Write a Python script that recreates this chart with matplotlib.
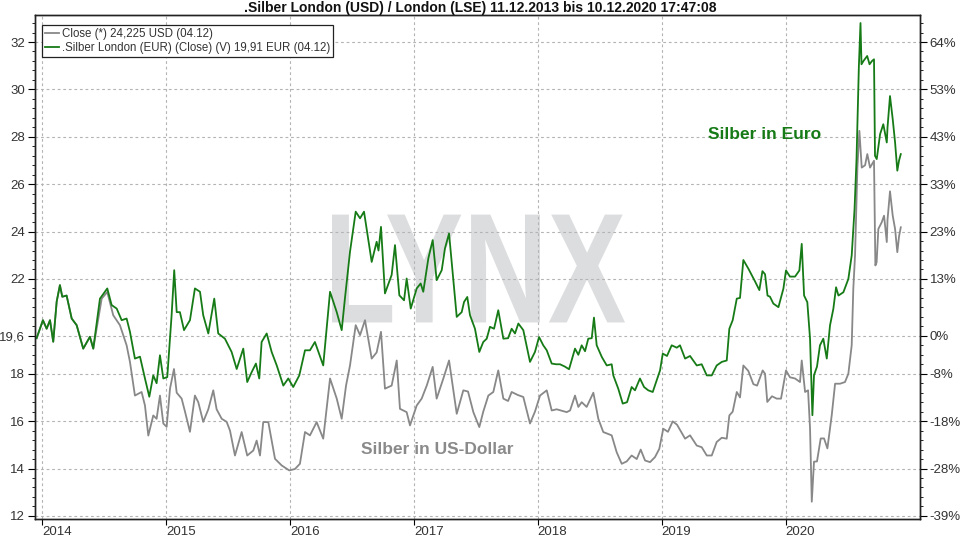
import numpy as np
import matplotlib
matplotlib.use('Agg')
import matplotlib.pyplot as plt
from matplotlib.textpath import TextPath
from matplotlib.patches import PathPatch
from matplotlib.font_manager import FontProperties
from matplotlib.transforms import Affine2D

plt.rcParams['font.family'] = ['Liberation Sans', 'DejaVu Sans']

# Silber in USD (grau), Zeit als Dezimaljahr
usd_t = [2013.957, 2014.008, 2014.038, 2014.065, 2014.091, 2014.119, 2014.145, 2014.164, 2014.199, 2014.240,
         2014.280, 2014.333, 2014.387, 2014.414, 2014.482, 2014.527, 2014.575, 2014.629, 2014.683, 2014.710,
         2014.750, 2014.804, 2014.831, 2014.858, 2014.898, 2014.925, 2014.952, 2014.979, 2015.006, 2015.033,
         2015.065, 2015.087, 2015.127, 2015.154, 2015.194, 2015.234, 2015.261, 2015.301, 2015.342, 2015.382,
         2015.409, 2015.450, 2015.490, 2015.517, 2015.557, 2015.611, 2015.656, 2015.705, 2015.732, 2015.759,
         2015.785, 2015.826, 2015.880, 2015.934, 2015.995, 2016.041, 2016.081, 2016.122, 2016.162, 2016.216,
         2016.269, 2016.324, 2016.378, 2016.418, 2016.453, 2016.485, 2016.531, 2016.566, 2016.606, 2016.660,
         2016.700, 2016.735, 2016.767, 2016.821, 2016.862, 2016.888, 2016.942, 2016.969, 2017.023, 2017.063,
         2017.104, 2017.152, 2017.184, 2017.238, 2017.284, 2017.346, 2017.399, 2017.437, 2017.480, 2017.528,
         2017.560, 2017.601, 2017.641, 2017.681, 2017.722, 2017.760, 2017.789, 2017.840, 2017.883, 2017.937,
         2017.977, 2018.018, 2018.072, 2018.112, 2018.152, 2018.233, 2018.260, 2018.300, 2018.327, 2018.354,
         2018.394, 2018.448, 2018.488, 2018.528, 2018.596, 2018.636, 2018.677, 2018.717, 2018.757, 2018.798,
         2018.830, 2018.865, 2018.905, 2018.945, 2018.980, 2019.012, 2019.050, 2019.088, 2019.123, 2019.188,
         2019.228, 2019.282, 2019.322, 2019.363, 2019.403, 2019.443, 2019.484, 2019.524, 2019.545, 2019.572,
         2019.605, 2019.631, 2019.658, 2019.698, 2019.739, 2019.769, 2019.814, 2019.833, 2019.851, 2019.889,
         2019.927, 2019.962, 2020.002, 2020.034, 2020.075, 2020.115, 2020.129, 2020.156, 2020.180, 2020.196,
         2020.210, 2020.228, 2020.252, 2020.282, 2020.309, 2020.336, 2020.371, 2020.398, 2020.438, 2020.478,
         2020.505, 2020.532, 2020.545, 2020.559, 2020.578, 2020.594, 2020.613, 2020.640, 2020.658, 2020.680,
         2020.712, 2020.723, 2020.733, 2020.747, 2020.774, 2020.793, 2020.815, 2020.821, 2020.841, 2020.863,
         2020.882, 2020.900, 2020.914, 2020.928]
usd_v = [19.5, 20.26, 19.9, 20.26, 19.35, 21.05, 21.74, 21.25, 21.3, 20.33,
         20.05, 19.06, 19.56, 19.06, 21.17, 21.45, 20.47, 20.05, 19.2, 18.5,
         17.08, 17.23, 16.66, 15.39, 16.24, 16.1, 17.08, 15.9, 15.76, 17.37,
         18.2, 17.2, 16.95, 16.4, 15.55, 17.08, 16.8, 15.97, 16.5, 17.3,
         16.5, 16.1, 15.97, 15.6, 14.55, 15.54, 14.55, 14.76, 15.18, 14.55,
         15.96, 15.96, 14.41, 14.13, 13.92, 13.98, 14.2, 15.54, 15.4, 15.96,
         15.26, 17.8, 16.95, 16.1, 17.5, 18.35, 20.05, 19.63, 20.26, 18.64,
         18.9, 19.77, 17.37, 17.5, 18.56, 16.52, 16.38, 15.82, 16.66, 16.95,
         17.5, 18.29, 16.95, 17.8, 18.56, 16.31, 17.3, 17.25, 16.38, 15.75,
         16.4, 17.08, 17.23, 18.14, 16.95, 16.85, 17.23, 17.1, 17.02, 15.9,
         16.4, 17.08, 17.3, 16.45, 16.5, 16.38, 16.45, 17.08, 16.6, 16.8,
         16.6, 17.2, 16.1, 15.54, 15.4, 14.69, 14.2, 14.3, 14.55, 14.4,
         14.8, 14.34, 14.27, 14.48, 14.83, 15.68, 15.55, 15.99, 15.85, 15.26,
         15.4, 14.97, 14.9, 14.55, 14.55, 15.12, 15.3, 15.26, 16.24, 16.4,
         17.23, 17.0, 18.35, 18.12, 17.56, 17.5, 18.14, 18.0, 16.81, 17.05,
         16.95, 16.95, 18.14, 17.85, 17.8, 17.65, 18.56, 17.23, 17.3, 15.69,
         12.6, 14.29, 14.3, 15.27, 15.27, 14.85, 16.25, 17.58, 17.58, 17.65,
         18.0, 19.2, 21.59, 22.99, 26.7, 28.25, 26.7, 26.8, 27.27, 26.7,
         26.99, 22.57, 22.7, 24.11, 24.39, 24.67, 23.56, 24.5, 25.7, 24.67,
         24.11, 23.13, 23.8, 24.18]

# Silber in EUR (gruen), auf den USD-Startwert skaliert
eur_t = [2013.957, 2014.008, 2014.038, 2014.065, 2014.091, 2014.119, 2014.145, 2014.164, 2014.199, 2014.240,
         2014.280, 2014.333, 2014.387, 2014.414, 2014.468, 2014.527, 2014.562, 2014.603, 2014.643, 2014.683,
         2014.710, 2014.750, 2014.791, 2014.831, 2014.866, 2014.898, 2014.925, 2014.952, 2014.979, 2015.011,
         2015.046, 2015.067, 2015.087, 2015.113, 2015.146, 2015.194, 2015.234, 2015.275, 2015.301, 2015.342,
         2015.390, 2015.422, 2015.476, 2015.530, 2015.571, 2015.624, 2015.656, 2015.692, 2015.726, 2015.753,
         2015.772, 2015.813, 2015.853, 2015.894, 2015.947, 2015.987, 2016.027, 2016.076, 2016.122, 2016.162,
         2016.202, 2016.269, 2016.324, 2016.378, 2016.418, 2016.444, 2016.485, 2016.531, 2016.566, 2016.598,
         2016.660, 2016.700, 2016.715, 2016.735, 2016.767, 2016.821, 2016.848, 2016.883, 2016.921, 2016.942,
         2016.975, 2017.023, 2017.055, 2017.076, 2017.117, 2017.152, 2017.184, 2017.225, 2017.251, 2017.284,
         2017.346, 2017.386, 2017.405, 2017.431, 2017.453, 2017.493, 2017.528, 2017.560, 2017.588, 2017.614,
         2017.647, 2017.681, 2017.722, 2017.760, 2017.789, 2017.816, 2017.843, 2017.883, 2017.937, 2017.977,
         2018.010, 2018.044, 2018.072, 2018.112, 2018.147, 2018.179, 2018.219, 2018.252, 2018.300, 2018.327,
         2018.354, 2018.381, 2018.407, 2018.435, 2018.453, 2018.475, 2018.516, 2018.556, 2018.596, 2018.609,
         2018.649, 2018.685, 2018.720, 2018.757, 2018.784, 2018.824, 2018.857, 2018.891, 2018.927, 2018.959,
         2018.986, 2019.008, 2019.042, 2019.080, 2019.121, 2019.147, 2019.188, 2019.228, 2019.282, 2019.322,
         2019.363, 2019.403, 2019.443, 2019.484, 2019.524, 2019.545, 2019.572, 2019.605, 2019.631, 2019.658,
         2019.698, 2019.752, 2019.787, 2019.812, 2019.833, 2019.853, 2019.873, 2019.900, 2019.941, 2019.981,
         2020.002, 2020.034, 2020.075, 2020.110, 2020.129, 2020.148, 2020.174, 2020.196, 2020.215, 2020.228,
         2020.252, 2020.276, 2020.303, 2020.331, 2020.357, 2020.384, 2020.406, 2020.425, 2020.465, 2020.505,
         2020.532, 2020.555, 2020.571, 2020.590, 2020.603, 2020.611, 2020.627, 2020.657, 2020.676, 2020.696,
         2020.712, 2020.720, 2020.734, 2020.761, 2020.787, 2020.815, 2020.821, 2020.841, 2020.863, 2020.882,
         2020.900, 2020.914, 2020.928]
eur_v = [19.5, 20.26, 19.9, 20.26, 19.35, 21.05, 21.74, 21.25, 21.3, 20.33,
         20.05, 19.06, 19.56, 19.06, 21.17, 21.6, 20.9, 20.75, 20.26, 20.33,
         19.77, 18.64, 18.72, 17.8, 17.03, 17.93, 17.6, 18.78, 17.8, 17.86,
         20.47, 22.37, 20.6, 20.6, 19.84, 20.26, 21.6, 21.46, 20.47, 19.7,
         21.17, 19.7, 19.48, 18.92, 18.2, 19.06, 17.65, 18.07, 18.43, 17.8,
         19.34, 19.7, 18.92, 18.35, 17.5, 17.8, 17.44, 17.93, 18.99, 18.99,
         19.34, 18.35, 21.46, 20.6, 19.84, 21.17, 23.15, 24.84, 24.56, 24.84,
         22.72, 23.57, 23.2, 24.2, 21.39, 22.17, 23.43, 21.31, 21.1, 22.02,
         20.75, 21.6, 21.81, 21.46, 22.87, 23.64, 21.95, 22.37, 23.29, 23.92,
         20.4, 20.6, 21.03, 21.24, 20.47, 19.9, 18.92, 19.34, 19.48, 19.98,
         19.9, 20.68, 19.48, 19.5, 19.9, 19.7, 20.12, 19.84, 18.5, 18.92,
         19.55, 19.2, 18.99, 18.43, 18.4, 18.4, 18.3, 18.19, 19.06, 18.8,
         19.2, 18.95, 19.48, 19.5, 20.37, 19.2, 18.71, 18.35, 18.4, 17.93,
         17.37, 16.74, 16.8, 17.44, 17.3, 17.8, 17.44, 17.3, 17.23, 17.72,
         18.14, 18.85, 18.75, 19.2, 19.1, 19.2, 18.64, 18.75, 18.35, 18.4,
         17.93, 17.93, 18.35, 18.5, 18.56, 19.9, 20.26, 21.17, 21.2, 22.8,
         22.44, 21.9, 21.53, 22.33, 22.2, 21.3, 21.25, 20.96, 20.81, 21.59,
         22.36, 22.1, 22.1, 22.36, 23.48, 21.3, 21.02, 19.48, 16.25, 17.94,
         18.3, 19.2, 19.48, 18.64, 20.04, 20.74, 21.65, 21.3, 21.44, 22.0,
         22.99, 24.95, 27.06, 30.99, 32.8, 31.06, 31.2, 31.41, 31.06, 31.2,
         31.27, 27.2, 27.06, 28.11, 28.53, 27.76, 28.4, 29.72, 28.74, 27.76,
         26.57, 27.0, 27.27]

years = [2014, 2015, 2016, 2017, 2018, 2019, 2020]
year_labels = ['2014', '2015', '2016', '2017', '2018', '2019', '2020']
left_ticks = [12, 14, 16, 18, 19.6, 22, 24, 26, 28, 30, 32]
left_labels = ['12', '14', '16', '18', '19,6', '22', '24', '26', '28', '30', '32']
right_labels = ['-39%', '-28%', '-18%', '-8%', '0%', '13%', '23%', '33%', '43%', '53%', '64%']

title = '.Silber London (USD) / London (LSE) 11.12.2013 bis 10.12.2020 17:47:08'
usd_label = 'Close (*) 24,225 USD (04.12)'
eur_label = '.Silber London (EUR) (Close) (V) 19,91 EUR (04.12)'

gray = '#888888'
green = '#167b16'
txt = '#333333'

fig = plt.figure(figsize=(9.6, 5.4), dpi=100)
ax = fig.add_axes([35 / 960, 21 / 540, 885 / 960, 504 / 540])

ax.set_xlim(2013.944, 2021.083)
ax.set_ylim(11.87, 33.14)

# LYNX Wasserzeichen
tp = TextPath((0, 0), 'LYNX', size=1, prop=FontProperties(family='Liberation Sans', weight='bold'))
ext = tp.get_extents()
x0, x1, y0, y1 = 0.3356, 0.6667, 0.390, 0.604
tr = Affine2D().translate(-ext.x0, -ext.y0).scale((x1 - x0) / ext.width, (y1 - y0) / ext.height).translate(x0, y0)
ax.add_patch(PathPatch(tp, transform=tr + ax.transAxes, facecolor='#dcdddf', edgecolor='none', zorder=0.5))

ax.plot(usd_t, usd_v, color=gray, lw=1.3, zorder=3, label=usd_label)
ax.plot(eur_t, eur_v, color=green, lw=1.3, zorder=4, label=eur_label)

ax.set_xticks(years)
ax.set_xticklabels(year_labels, ha='left')
ax.set_yticks(left_ticks)
ax.set_yticklabels(left_labels)
ax.set_yticks(np.arange(12, 33.1, 0.4), minor=True)
ax.grid(True, which='major', linestyle=(0, (2.5, 2.5)), color='#b4b4b4', lw=0.8, zorder=1)

ax.tick_params(axis='x', which='major', length=4, labelsize=9.5, labelcolor=txt, pad=1)
ax.tick_params(axis='y', which='major', length=5, labelsize=9.5, labelcolor=txt, pad=2)
ax.tick_params(axis='y', which='minor', length=2.5)

ax2 = ax.twinx()
ax2.set_ylim(ax.get_ylim())
ax2.set_yticks(left_ticks)
ax2.set_yticklabels(right_labels)
ax2.set_yticks(np.arange(12, 33.1, 0.4), minor=True)
ax2.tick_params(axis='y', which='major', length=5, labelsize=9.5, labelcolor=txt, pad=2)
ax2.tick_params(axis='y', which='minor', length=2.5)

for a in (ax, ax2):
    for s in a.spines.values():
        s.set_color('#222222')
        s.set_linewidth(1.0)

leg = ax.legend(loc='upper left', bbox_to_anchor=(0.008, 0.98), borderaxespad=0, fontsize=8.3,
                handlelength=1.2, handletextpad=0.3, borderpad=0.25, labelspacing=0.15,
                fancybox=False, framealpha=1, edgecolor='#222222')
leg.get_frame().set_linewidth(0.9)
for t in leg.get_texts():
    t.set_color(txt)

ax.text(2019.833, 28.08, 'Silber in Euro', color=green, fontsize=12.5, fontweight='bold',
        ha='center', va='center', zorder=5)
ax.text(2017.187, 14.82, 'Silber in US-Dollar', color='#8a8a8a', fontsize=12.5, fontweight='bold',
        ha='center', va='center', zorder=5)

fig.text(0.5, 1 - 8 / 540, title, ha='center', va='center', fontsize=10, fontweight='bold', color='#111111')

fig.savefig('out.png', dpi=100)
